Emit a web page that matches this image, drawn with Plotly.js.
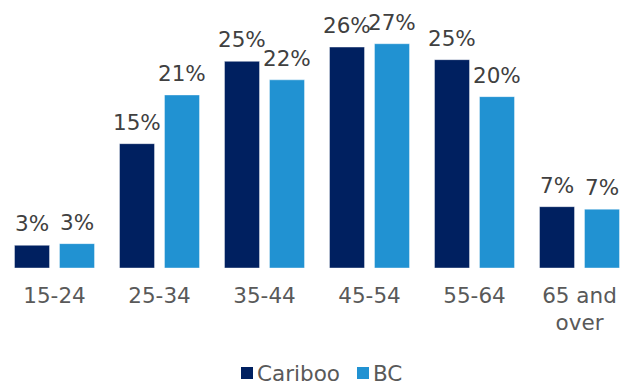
<!DOCTYPE html>
<html>
<head>
<meta charset="utf-8">
<script src="https://cdn.plot.ly/plotly-3.0.1.min.js"></script>
<style>
  html, body { margin: 0; padding: 0; background: #fff; }
  #chart { width: 632px; height: 385px; }
</style>
</head>
<body>
<div id="chart"></div>
<script>
// Age groups and share of population (%) in each
const ageGroups = ['15-24', '25-34', '35-44', '45-54', '55-64', '65 and<br>over'];
const caribooShare = [2.7, 14.8, 24.6, 26.3, 24.8, 7.3];
const bcShare = [2.9, 20.6, 22.4, 26.7, 20.4, 7.0];

const seriesNames = ['Cariboo', 'BC'];
const seriesColors = ['#002060', '#2192D2'];

const W = 632, H = 385;
const M = { l: 2, r: 0, t: 16, b: 117 };
const plotW = W - M.l - M.r, plotH = H - M.t - M.b;
// pixel -> paper coordinates (used for the legend keys below the axis)
const px = x => (x - M.l) / plotW;
const py = y => (H - M.b - y) / plotH;

const baseFont = 'DejaVu Sans, Verdana, sans-serif';
const labelFont = { family: baseFont, size: 21.5, color: '#404040' };
const axisFont = { family: baseFont, size: 21.5, color: '#595959' };

const traces = [caribooShare, bcShare].map((vals, i) => ({
  type: 'bar',
  name: seriesNames[i],
  x: ageGroups,
  y: vals,
  marker: { color: seriesColors[i], line: { color: 'rgba(255,255,255,0.4)', width: 1 } },
  hoverinfo: 'skip'
}));

// Value labels above each bar, shifted onto their bar within the group
const annotations = [];
[caribooShare, bcShare].forEach((vals, i) => {
  vals.forEach((v, j) => {
    annotations.push({
      x: ageGroups[j],
      y: v,
      xref: 'x',
      yref: 'y',
      xshift: i === 0 ? -22.5 : 22.5,
      yshift: 7,
      yanchor: 'bottom',
      text: Math.round(v) + '%',
      showarrow: false,
      font: labelFont
    });
  });
});

// Legend: coloured key square followed by the series name
const legendKeys = [
  { sq: 241, txt: 255 },
  { sq: 357, txt: 371 }
];
const shapes = [];
legendKeys.forEach((k, i) => {
  shapes.push({
    type: 'rect',
    xref: 'paper', yref: 'paper',
    x0: px(k.sq), x1: px(k.sq + 12),
    y0: py(379), y1: py(367),
    fillcolor: seriesColors[i],
    line: { width: 0 }
  });
  annotations.push({
    xref: 'paper', yref: 'paper',
    x: px(k.txt), y: py(373),
    xanchor: 'left', yanchor: 'middle',
    text: seriesNames[i],
    showarrow: false,
    font: axisFont
  });
});

const layout = {
  width: W,
  height: H,
  margin: M,
  paper_bgcolor: '#ffffff',
  plot_bgcolor: '#ffffff',
  barmode: 'group',
  bargap: 0.143,
  bargroupgap: 0.222,
  showlegend: false,
  xaxis: {
    type: 'category',
    showgrid: false,
    zeroline: false,
    showline: false,
    ticks: '',
    ticklabelstandoff: 12,
    tickfont: axisFont,
    fixedrange: true
  },
  yaxis: {
    range: [0, 30],
    visible: false,
    showgrid: false,
    zeroline: false,
    fixedrange: true
  },
  shapes: shapes,
  annotations: annotations,
  font: axisFont
};

Plotly.newPlot('chart', traces, layout, { displayModeBar: false, staticPlot: true });
</script>
</body>
</html>
